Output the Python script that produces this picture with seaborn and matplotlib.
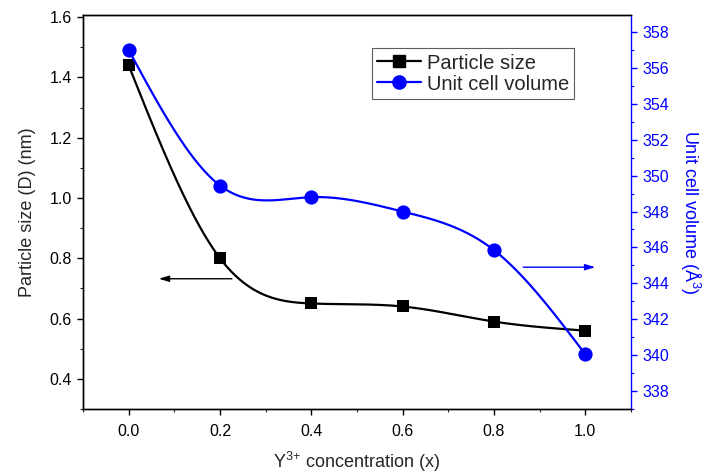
import numpy as np
import pandas as pd
import matplotlib
matplotlib.use("Agg")
import matplotlib.pyplot as plt
from matplotlib.lines import Line2D
from matplotlib.ticker import MultipleLocator
import seaborn as sns

# Y3+ doping level
concentration = [0.0, 0.2, 0.4, 0.6, 0.8, 1.0]
# crystallite / particle size (nm), left axis
particle_size = [1.44, 0.80, 0.65, 0.64, 0.59, 0.56]
# unit cell volume (Å^3), right axis
cell_volume = [357.0, 349.45, 348.8, 348.0, 345.85, 340.05]

x_ticks = [0.0, 0.2, 0.4, 0.6, 0.8, 1.0]
left_ticks = [0.4, 0.6, 0.8, 1.0, 1.2, 1.4, 1.6]
right_ticks = [338, 340, 342, 344, 346, 348, 350, 352, 354, 356, 358]

BLUE = "#0000ff"


def natural_spline(x, y, n=300):
    """Natural cubic spline through the given points (smooth connector line)."""
    x = np.asarray(x, float)
    y = np.asarray(y, float)
    m = len(x)
    h = np.diff(x)
    A = np.zeros((m, m))
    b = np.zeros(m)
    A[0, 0] = A[-1, -1] = 1.0
    for i in range(1, m - 1):
        A[i, i - 1] = h[i - 1]
        A[i, i] = 2 * (h[i - 1] + h[i])
        A[i, i + 1] = h[i]
        b[i] = 6 * ((y[i + 1] - y[i]) / h[i] - (y[i] - y[i - 1]) / h[i - 1])
    M = np.linalg.solve(A, b)
    xs = np.linspace(x[0], x[-1], n)
    idx = np.clip(np.searchsorted(x, xs) - 1, 0, m - 2)
    x0, x1 = x[idx], x[idx + 1]
    hh = x1 - x0
    t0 = x1 - xs
    t1 = xs - x0
    ys = (M[idx] * t0 ** 3 / (6 * hh) + M[idx + 1] * t1 ** 3 / (6 * hh)
          + (y[idx] / hh - M[idx] * hh / 6) * t0
          + (y[idx + 1] / hh - M[idx + 1] * hh / 6) * t1)
    return xs, ys


sns.set_style("ticks")
plt.rcParams["font.family"] = ["Liberation Sans", "DejaVu Sans"]
plt.rcParams["mathtext.default"] = "regular"

fig = plt.figure(figsize=(7.07, 4.76), dpi=100)
ax = fig.add_axes([0.1174, 0.1408, 0.775, 0.8277])
ax2 = ax.twinx()

df = pd.DataFrame({"x": concentration, "size": particle_size, "vol": cell_volume})

xs, ys = natural_spline(concentration, particle_size)
sns.lineplot(x=xs, y=ys, ax=ax, color="black", linewidth=1.6, sort=False)
sns.scatterplot(data=df, x="x", y="size", ax=ax, marker="s", s=80,
                color="black", edgecolor="black", linewidth=0, zorder=5)

xs2, ys2 = natural_spline(concentration, cell_volume)
sns.lineplot(x=xs2, y=ys2, ax=ax2, color=BLUE, linewidth=1.6, sort=False)
sns.scatterplot(data=df, x="x", y="vol", ax=ax2, marker="o", s=105,
                color=BLUE, edgecolor=BLUE, linewidth=0, zorder=5)

ax.set_xlim(-0.1, 1.1)
ax.set_ylim(0.3, 1.607)
ax2.set_ylim(337.0, 358.95)

ax.set_xticks(x_ticks)
ax.set_xticklabels([f"{v:.1f}" for v in x_ticks])
ax.set_yticks(left_ticks)
ax.set_yticklabels([f"{v:.1f}" for v in left_ticks])
ax2.set_yticks(right_ticks)
ax2.set_yticklabels([str(v) for v in right_ticks])
ax.xaxis.set_minor_locator(MultipleLocator(0.1))
ax.yaxis.set_minor_locator(MultipleLocator(0.1))
ax2.yaxis.set_minor_locator(MultipleLocator(1))

for a in (ax, ax2):
    for s in a.spines.values():
        s.set_linewidth(1.0)
        s.set_color("black")
ax2.spines["right"].set_color(BLUE)
ax.spines["right"].set_visible(False)

ax.tick_params(axis="both", which="major", direction="out", length=4.5, width=1.0,
               labelsize=11.5, color="black", labelcolor="black", top=False, right=False)
ax.tick_params(axis="x", which="major", pad=6)
ax.tick_params(axis="both", which="minor", direction="out", length=2.5, width=0.8,
               top=False, right=False)
ax2.tick_params(axis="y", which="major", direction="out", length=4.5, width=1.0,
                labelsize=11.5, color=BLUE, labelcolor=BLUE)
ax2.tick_params(axis="y", which="minor", direction="out", length=2.5, width=0.8,
                color=BLUE)

ax.set_xlabel("Y$^{3{+}}$ concentration (x)", fontsize=13, labelpad=8)
ax.set_ylabel("Particle size (D) (nm)", fontsize=13, labelpad=10)
ax2.set_ylabel("Unit cell volume (Å$^{3}$)", fontsize=13, color=BLUE,
               rotation=270, labelpad=24)

# direction arrows pointing to each curve's axis
ax.annotate("", xy=(0.066, 0.732), xytext=(0.226, 0.732),
            arrowprops=dict(arrowstyle="-|>,head_length=0.6,head_width=0.18",
                            color="black", lw=1.0, shrinkA=0, shrinkB=0))
ax2.annotate("", xy=(1.022, 344.9), xytext=(0.864, 344.9),
             arrowprops=dict(arrowstyle="-|>,head_length=0.6,head_width=0.18",
                             color=BLUE, lw=1.0, shrinkA=0, shrinkB=0))

handles = [
    Line2D([], [], color="black", lw=1.6, marker="s", markersize=8.5),
    Line2D([], [], color=BLUE, lw=1.6, marker="o", markersize=9.5),
]
leg = ax2.legend(handles, ["Particle size", "Unit cell volume"],
                 loc="upper left", bbox_to_anchor=(0.527, 0.915),
                 fontsize=14.5, frameon=True, fancybox=False,
                 edgecolor="#333333", handlelength=2.2, handletextpad=0.3,
                 borderpad=0.25, labelspacing=0.1, borderaxespad=0)
leg.get_frame().set_linewidth(0.8)

fig.savefig("out.png", dpi=100)
